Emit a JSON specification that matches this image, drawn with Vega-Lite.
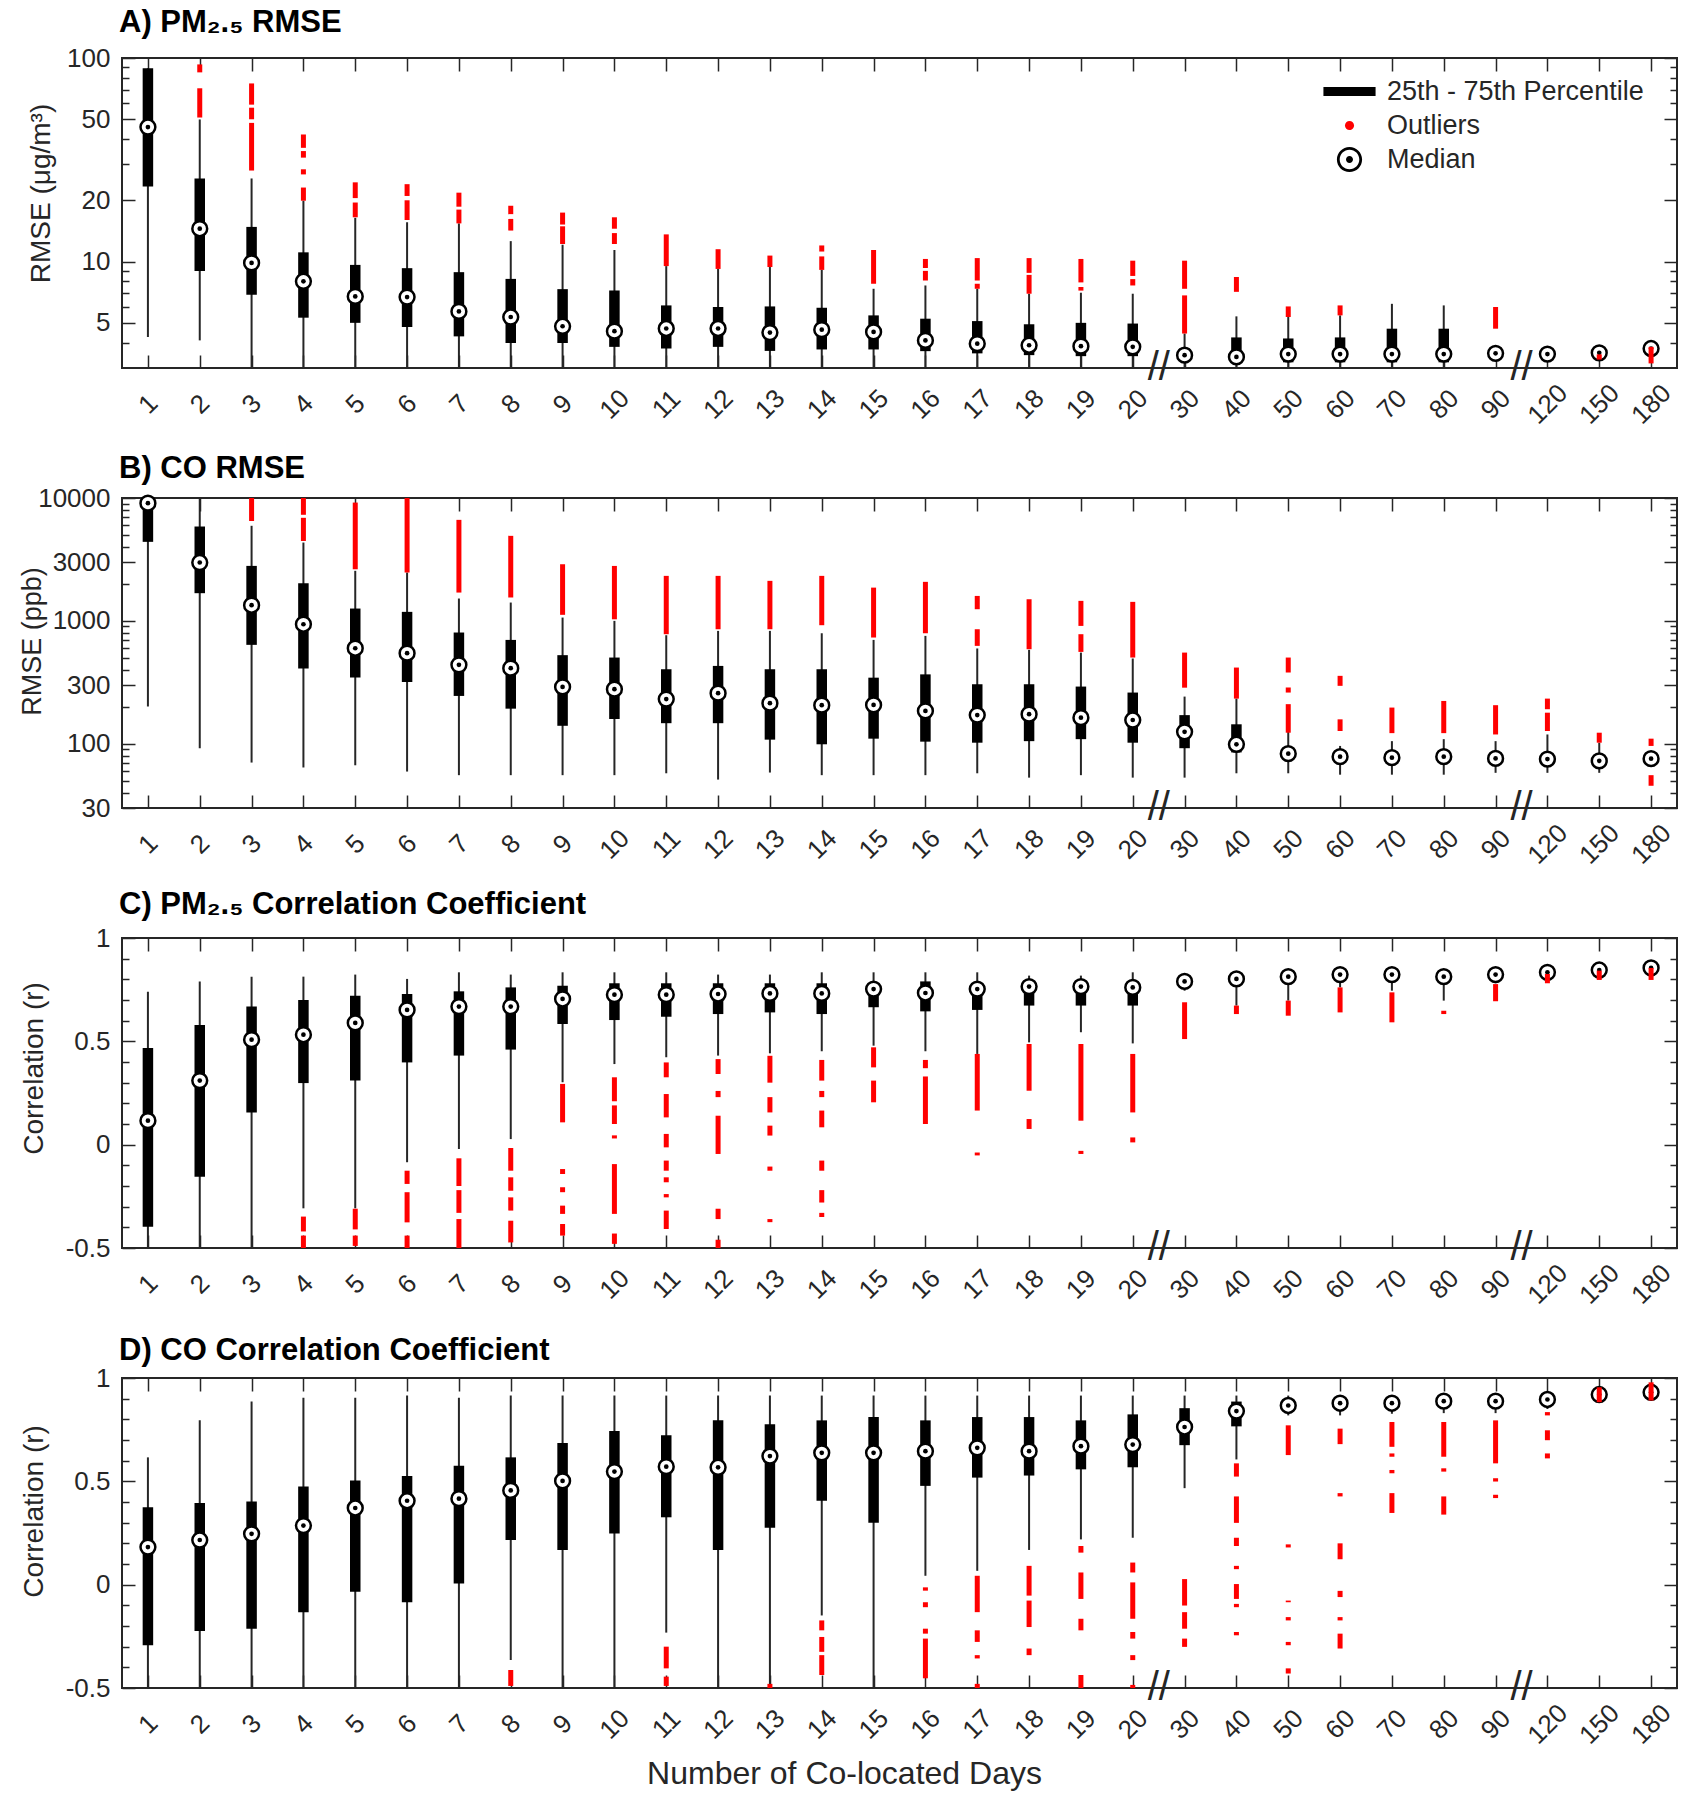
{
 "$schema": "https://vega.github.io/schema/vega-lite/v6.json",
 "background": "white",
 "padding": {"left": 17, "top": 6, "right": 5, "bottom": 5},
 "spacing": 130,
 "bounds": "flush",
 "datasets": {
  "A": [
   {"d":"1","lo":4.26,"q1":23.4,"med":45.8,"q3":89,"hi":89},
   {"d":"2","lo":4.1,"q1":9.0,"med":14.5,"q3":25.6,"hi":49.9},
   {"d":"3","lo":3,"q1":6.87,"med":9.85,"q3":14.8,"hi":25.6},
   {"d":"4","lo":3,"q1":5.3,"med":8.0,"q3":11.1,"hi":19.9},
   {"d":"5","lo":3,"q1":5.0,"med":6.74,"q3":9.63,"hi":16.4},
   {"d":"6","lo":3,"q1":4.77,"med":6.69,"q3":9.28,"hi":15.6},
   {"d":"7","lo":3,"q1":4.29,"med":5.69,"q3":8.87,"hi":15.4},
   {"d":"8","lo":3,"q1":3.98,"med":5.34,"q3":8.22,"hi":12.6},
   {"d":"9","lo":3,"q1":3.98,"med":4.81,"q3":7.32,"hi":12.1},
   {"d":"10","lo":3,"q1":3.81,"med":4.55,"q3":7.21,"hi":11.4},
   {"d":"11","lo":3,"q1":3.74,"med":4.69,"q3":6.09,"hi":9.5},
   {"d":"12","lo":3,"q1":3.81,"med":4.69,"q3":5.98,"hi":9.2},
   {"d":"13","lo":3,"q1":3.64,"med":4.48,"q3":6.02,"hi":9.4},
   {"d":"14","lo":3,"q1":3.70,"med":4.63,"q3":5.93,"hi":9.1},
   {"d":"15","lo":3,"q1":3.70,"med":4.51,"q3":5.44,"hi":7.35},
   {"d":"16","lo":3,"q1":3.63,"med":4.10,"q3":5.24,"hi":7.63},
   {"d":"17","lo":3,"q1":3.54,"med":3.95,"q3":5.10,"hi":7.35},
   {"d":"18","lo":3,"q1":3.47,"med":3.88,"q3":4.92,"hi":6.95},
   {"d":"19","lo":3,"q1":3.43,"med":3.84,"q3":5.00,"hi":7.03},
   {"d":"20","lo":3,"q1":3.43,"med":3.81,"q3":4.96,"hi":6.95},
   {"d":"30","lo":3,"q1":3.25,"med":3.47,"q3":3.75,"hi":4.43},
   {"d":"40","lo":3,"q1":3.2,"med":3.40,"q3":4.24,"hi":5.38},
   {"d":"50","lo":3,"q1":3.2,"med":3.51,"q3":4.19,"hi":5.34},
   {"d":"60","lo":3,"q1":3.2,"med":3.51,"q3":4.24,"hi":5.44},
   {"d":"70","lo":3,"q1":3.2,"med":3.51,"q3":4.68,"hi":6.2},
   {"d":"80","lo":3,"q1":3.2,"med":3.51,"q3":4.68,"hi":6.09},
   {"d":"90","lo":3.3,"q1":3.4,"med":3.54,"q3":3.65,"hi":3.8},
   {"d":"120","lo":3.3,"q1":3.4,"med":3.51,"q3":3.6,"hi":3.7},
   {"d":"150","lo":3.35,"q1":3.45,"med":3.56,"q3":3.65,"hi":3.75},
   {"d":"180","lo":3.5,"q1":3.6,"med":3.74,"q3":3.85,"hi":3.95}
  ],
  "Ao": [
   {"d":"2","a":51,"b":71},{"d":"2","a":85,"b":93},
   {"d":"3","a":28,"b":48},{"d":"3","a":50,"b":57},{"d":"3","a":59,"b":75},
   {"d":"4","a":19.9,"b":23.1},{"d":"4","a":26.8,"b":28.4},{"d":"4","a":32.4,"b":34.9},{"d":"4","a":36.2,"b":42.1},
   {"d":"5","a":16.5,"b":19.5},{"d":"5","a":20.5,"b":24.5},
   {"d":"6","a":16,"b":20},{"d":"6","a":21,"b":24},
   {"d":"7","a":15.4,"b":18},{"d":"7","a":18.6,"b":21.8},
   {"d":"8","a":14.2,"b":16.2},{"d":"8","a":17.1,"b":18.8},
   {"d":"9","a":12.2,"b":14.9},{"d":"9","a":15.2,"b":17.4},
   {"d":"10","a":12.2,"b":13.8},{"d":"10","a":14.5,"b":16.5},
   {"d":"11","a":9.5,"b":13.6},
   {"d":"12","a":9.2,"b":11.5},
   {"d":"13","a":9.4,"b":10.7},
   {"d":"14","a":9.1,"b":10.6},{"d":"14","a":11.2,"b":12.0},
   {"d":"15","a":7.78,"b":11.4},
   {"d":"16","a":8.07,"b":9.0},{"d":"16","a":9.3,"b":10.3},
   {"d":"17","a":7.35,"b":7.78},{"d":"17","a":8.07,"b":10.4},
   {"d":"18","a":6.95,"b":8.6},{"d":"18","a":8.8,"b":10.4},
   {"d":"19","a":7.2,"b":7.5},{"d":"19","a":7.9,"b":10.3},
   {"d":"20","a":7.63,"b":8.2},{"d":"20","a":8.5,"b":10.1},
   {"d":"30","a":4.43,"b":6.82},{"d":"30","a":7.35,"b":10.1},
   {"d":"40","a":7.1,"b":8.4},
   {"d":"50","a":5.34,"b":6.02},
   {"d":"60","a":5.44,"b":6.09},
   {"d":"90","a":4.68,"b":5.98},
   {"d":"150","a":3.3,"b":3.5},
   {"d":"180","a":3.16,"b":3.81}
  ],
  "B": [
   {"d":"1","lo":201,"q1":4397,"med":9077,"q3":11000,"hi":12000},
   {"d":"2","lo":92,"q1":1680,"med":2985,"q3":5861,"hi":12000},
   {"d":"3","lo":70.3,"q1":638,"med":1341,"q3":2802,"hi":5940},
   {"d":"4","lo":64.1,"q1":409,"med":939,"q3":2026,"hi":4340},
   {"d":"5","lo":66.8,"q1":346,"med":599,"q3":1260,"hi":2555},
   {"d":"6","lo":59.4,"q1":318,"med":546,"q3":1184,"hi":2475},
   {"d":"7","lo":55.5,"q1":245,"med":439,"q3":804,"hi":1520},
   {"d":"8","lo":55.5,"q1":193,"med":412,"q3":700,"hi":1410},
   {"d":"9","lo":55.5,"q1":140,"med":290,"q3":526,"hi":1064},
   {"d":"10","lo":55.5,"q1":159,"med":278,"q3":503,"hi":1000},
   {"d":"11","lo":57.5,"q1":147,"med":231,"q3":404,"hi":764},
   {"d":"12","lo":51.1,"q1":147,"med":258,"q3":430,"hi":829},
   {"d":"13","lo":58.3,"q1":108,"med":214,"q3":404,"hi":829},
   {"d":"14","lo":55.5,"q1":99,"med":206,"q3":404,"hi":793},
   {"d":"15","lo":55.5,"q1":110,"med":207,"q3":345,"hi":700},
   {"d":"16","lo":55.5,"q1":104,"med":185,"q3":367,"hi":755},
   {"d":"17","lo":57.5,"q1":102,"med":171,"q3":305,"hi":596},
   {"d":"18","lo":53,"q1":105,"med":174,"q3":305,"hi":581},
   {"d":"19","lo":55.5,"q1":109,"med":163,"q3":292,"hi":552},
   {"d":"20","lo":53,"q1":102,"med":156,"q3":261,"hi":494},
   {"d":"30","lo":53,"q1":92,"med":125,"q3":171,"hi":242},
   {"d":"40","lo":57.5,"q1":85,"med":99,"q3":144,"hi":233},
   {"d":"50","lo":57.5,"q1":76,"med":83,"q3":92,"hi":125},
   {"d":"60","lo":56,"q1":72,"med":78.5,"q3":86,"hi":96},
   {"d":"70","lo":56,"q1":72,"med":77,"q3":83,"hi":105},
   {"d":"80","lo":56,"q1":72,"med":78.5,"q3":86,"hi":109},
   {"d":"90","lo":58,"q1":71,"med":76,"q3":82,"hi":105},
   {"d":"120","lo":58,"q1":70,"med":75,"q3":81,"hi":119},
   {"d":"150","lo":58,"q1":67,"med":72.6,"q3":79,"hi":102},
   {"d":"180","lo":70,"q1":72,"med":75.6,"q3":80,"hi":85}
  ],
  "Bo": [
   {"d":"3","a":6500,"b":10500},
   {"d":"4","a":4470,"b":6900},{"d":"4","a":7300,"b":10500},
   {"d":"5","a":2630,"b":9180},
   {"d":"6","a":2475,"b":10000},
   {"d":"7","a":1700,"b":6640},
   {"d":"8","a":1550,"b":4920},
   {"d":"9","a":1120,"b":2890},
   {"d":"10","a":1030,"b":2800},
   {"d":"11","a":779,"b":2324},
   {"d":"12","a":855,"b":2324},
   {"d":"13","a":855,"b":2117},
   {"d":"14","a":922,"b":2324},
   {"d":"15","a":732,"b":1865},
   {"d":"16","a":793,"b":2078},
   {"d":"17","a":626,"b":855},{"d":"17","a":1244,"b":1596},
   {"d":"18","a":588,"b":1500},
   {"d":"19","a":559,"b":779},{"d":"19","a":910,"b":1455},
   {"d":"20","a":503,"b":1428},
   {"d":"30","a":286,"b":552},
   {"d":"40","a":233,"b":417},
   {"d":"50","a":123,"b":210},{"d":"50","a":261,"b":287},{"d":"50","a":380,"b":503},
   {"d":"60","a":127,"b":158},{"d":"60","a":296,"b":357},
   {"d":"70","a":122,"b":197},
   {"d":"80","a":122,"b":223},
   {"d":"90","a":119,"b":206},
   {"d":"120","a":127,"b":179},{"d":"120","a":191,"b":233},
   {"d":"150","a":102,"b":123},
   {"d":"180","a":96,"b":110},{"d":"180","a":45.5,"b":55.5}
  ],
  "C": [
   {"d":"1","lo":-0.5,"q1":-0.397,"med":0.116,"q3":0.468,"hi":0.74},
   {"d":"2","lo":-0.5,"q1":-0.155,"med":0.31,"q3":0.579,"hi":0.79},
   {"d":"3","lo":-0.5,"q1":0.156,"med":0.508,"q3":0.669,"hi":0.813},
   {"d":"4","lo":-0.308,"q1":0.298,"med":0.532,"q3":0.70,"hi":0.813},
   {"d":"5","lo":-0.308,"q1":0.31,"med":0.589,"q3":0.721,"hi":0.823},
   {"d":"6","lo":-0.085,"q1":0.398,"med":0.652,"q3":0.729,"hi":0.802},
   {"d":"7","lo":-0.021,"q1":0.431,"med":0.668,"q3":0.742,"hi":0.834},
   {"d":"8","lo":0.027,"q1":0.46,"med":0.668,"q3":0.761,"hi":0.823},
   {"d":"9","lo":0.302,"q1":0.584,"med":0.705,"q3":0.769,"hi":0.834},
   {"d":"10","lo":0.39,"q1":0.603,"med":0.726,"q3":0.781,"hi":0.834},
   {"d":"11","lo":0.423,"q1":0.619,"med":0.726,"q3":0.781,"hi":0.834},
   {"d":"12","lo":0.431,"q1":0.632,"med":0.729,"q3":0.781,"hi":0.823},
   {"d":"13","lo":0.442,"q1":0.64,"med":0.732,"q3":0.781,"hi":0.823},
   {"d":"14","lo":0.452,"q1":0.632,"med":0.732,"q3":0.781,"hi":0.834},
   {"d":"15","lo":0.479,"q1":0.665,"med":0.753,"q3":0.78,"hi":0.834},
   {"d":"16","lo":0.452,"q1":0.645,"med":0.734,"q3":0.79,"hi":0.834},
   {"d":"17","lo":0.439,"q1":0.652,"med":0.753,"q3":0.78,"hi":0.834},
   {"d":"18","lo":0.495,"q1":0.673,"med":0.765,"q3":0.79,"hi":0.818},
   {"d":"19","lo":0.544,"q1":0.673,"med":0.765,"q3":0.79,"hi":0.818},
   {"d":"20","lo":0.49,"q1":0.673,"med":0.761,"q3":0.79,"hi":0.834},
   {"d":"30","lo":0.745,"q1":0.77,"med":0.79,"q3":0.81,"hi":0.83},
   {"d":"40","lo":0.673,"q1":0.785,"med":0.802,"q3":0.82,"hi":0.84},
   {"d":"50","lo":0.697,"q1":0.795,"med":0.813,"q3":0.83,"hi":0.85},
   {"d":"60","lo":0.761,"q1":0.805,"med":0.823,"q3":0.84,"hi":0.86},
   {"d":"70","lo":0.745,"q1":0.805,"med":0.823,"q3":0.84,"hi":0.86},
   {"d":"80","lo":0.697,"q1":0.795,"med":0.813,"q3":0.83,"hi":0.85},
   {"d":"90","lo":0.781,"q1":0.81,"med":0.823,"q3":0.84,"hi":0.855},
   {"d":"120","lo":0.82,"q1":0.825,"med":0.834,"q3":0.845,"hi":0.855},
   {"d":"150","lo":0.83,"q1":0.835,"med":0.845,"q3":0.855,"hi":0.865},
   {"d":"180","lo":0.84,"q1":0.845,"med":0.855,"q3":0.865,"hi":0.875}
  ],
  "Co": [
   {"d":"4","a":-0.5,"b":-0.44},{"d":"4","a":-0.42,"b":-0.348},
   {"d":"5","a":-0.49,"b":-0.44},{"d":"5","a":-0.41,"b":-0.31},
   {"d":"6","a":-0.5,"b":-0.44},{"d":"6","a":-0.376,"b":-0.23},{"d":"6","a":-0.19,"b":-0.126},
   {"d":"7","a":-0.5,"b":-0.36},{"d":"7","a":-0.33,"b":-0.22},{"d":"7","a":-0.2,"b":-0.066},
   {"d":"8","a":-0.473,"b":-0.368},{"d":"8","a":-0.319,"b":-0.255},{"d":"8","a":-0.223,"b":-0.158},{"d":"8","a":-0.126,"b":-0.016},
   {"d":"9","a":0.108,"b":0.294},{"d":"9","a":-0.142,"b":-0.118},{"d":"9","a":-0.23,"b":-0.206},{"d":"9","a":-0.335,"b":-0.295},{"d":"9","a":-0.44,"b":-0.384},
   {"d":"10","a":0.21,"b":0.326},{"d":"10","a":0.1,"b":0.19},{"d":"10","a":0.03,"b":0.045},{"d":"10","a":-0.335,"b":-0.094},{"d":"10","a":-0.48,"b":-0.43},
   {"d":"11","a":0.326,"b":0.398},{"d":"11","a":0.132,"b":0.245},{"d":"11","a":-0.013,"b":0.052},{"d":"11","a":-0.126,"b":-0.077},{"d":"11","a":-0.182,"b":-0.158},{"d":"11","a":-0.255,"b":-0.239},{"d":"11","a":-0.408,"b":-0.319},
   {"d":"12","a":0.342,"b":0.414},{"d":"12","a":0.23,"b":0.26},{"d":"12","a":-0.045,"b":0.14},{"d":"12","a":-0.36,"b":-0.31},{"d":"12","a":-0.5,"b":-0.46},
   {"d":"13","a":0.30,"b":0.43},{"d":"13","a":0.156,"b":0.23},{"d":"13","a":0.044,"b":0.092},{"d":"13","a":-0.126,"b":-0.106},{"d":"13","a":-0.375,"b":-0.36},
   {"d":"14","a":0.31,"b":0.41},{"d":"14","a":0.23,"b":0.26},{"d":"14","a":0.084,"b":0.165},{"d":"14","a":-0.126,"b":-0.077},{"d":"14","a":-0.28,"b":-0.22},{"d":"14","a":-0.35,"b":-0.33},
   {"d":"15","a":0.374,"b":0.471},{"d":"15","a":0.205,"b":0.31},
   {"d":"16","a":0.37,"b":0.41},{"d":"16","a":0.1,"b":0.33},
   {"d":"17","a":0.165,"b":0.439},{"d":"17","a":-0.052,"b":-0.038},
   {"d":"18","a":0.261,"b":0.487},{"d":"18","a":0.076,"b":0.124},
   {"d":"19","a":0.116,"b":0.487},{"d":"19","a":-0.045,"b":-0.03},
   {"d":"20","a":0.156,"b":0.439},{"d":"20","a":0.011,"b":0.035},
   {"d":"30","a":0.511,"b":0.689},
   {"d":"40","a":0.632,"b":0.673},
   {"d":"50","a":0.624,"b":0.697},
   {"d":"60","a":0.64,"b":0.761},
   {"d":"70","a":0.592,"b":0.737},
   {"d":"80","a":0.632,"b":0.648},
   {"d":"90","a":0.694,"b":0.777},
   {"d":"120","a":0.781,"b":0.826},
   {"d":"150","a":0.797,"b":0.842},
   {"d":"180","a":0.797,"b":0.855}
  ],
  "D": [
   {"d":"1","lo":-0.5,"q1":-0.293,"med":0.182,"q3":0.374,"hi":0.616},
   {"d":"2","lo":-0.5,"q1":-0.224,"med":0.216,"q3":0.395,"hi":0.795},
   {"d":"3","lo":-0.5,"q1":-0.213,"med":0.246,"q3":0.403,"hi":0.886},
   {"d":"4","lo":-0.5,"q1":-0.133,"med":0.286,"q3":0.475,"hi":0.904},
   {"d":"5","lo":-0.5,"q1":-0.034,"med":0.371,"q3":0.504,"hi":0.904},
   {"d":"6","lo":-0.5,"q1":-0.085,"med":0.406,"q3":0.526,"hi":0.915},
   {"d":"7","lo":-0.5,"q1":0.006,"med":0.416,"q3":0.576,"hi":0.904},
   {"d":"8","lo":-0.365,"q1":0.216,"med":0.456,"q3":0.616,"hi":0.915},
   {"d":"9","lo":-0.5,"q1":0.168,"med":0.502,"q3":0.686,"hi":0.915},
   {"d":"10","lo":-0.5,"q1":0.248,"med":0.547,"q3":0.744,"hi":0.915},
   {"d":"11","lo":-0.232,"q1":0.326,"med":0.571,"q3":0.723,"hi":0.915},
   {"d":"12","lo":-0.5,"q1":0.168,"med":0.568,"q3":0.795,"hi":0.915},
   {"d":"13","lo":-0.5,"q1":0.275,"med":0.622,"q3":0.776,"hi":0.915},
   {"d":"14","lo":-0.149,"q1":0.406,"med":0.638,"q3":0.795,"hi":0.915},
   {"d":"15","lo":-0.5,"q1":0.299,"med":0.638,"q3":0.811,"hi":0.915},
   {"d":"16","lo":0.043,"q1":0.478,"med":0.646,"q3":0.795,"hi":0.915},
   {"d":"17","lo":0.067,"q1":0.518,"med":0.662,"q3":0.811,"hi":0.915},
   {"d":"18","lo":0.168,"q1":0.528,"med":0.646,"q3":0.811,"hi":0.915},
   {"d":"19","lo":0.219,"q1":0.558,"med":0.670,"q3":0.795,"hi":0.915},
   {"d":"20","lo":0.227,"q1":0.568,"med":0.678,"q3":0.824,"hi":0.915},
   {"d":"30","lo":0.467,"q1":0.675,"med":0.763,"q3":0.854,"hi":0.915},
   {"d":"40","lo":0.606,"q1":0.766,"med":0.84,"q3":0.886,"hi":0.915},
   {"d":"50","lo":0.819,"q1":0.85,"med":0.867,"q3":0.885,"hi":0.915},
   {"d":"60","lo":0.819,"q1":0.86,"med":0.878,"q3":0.895,"hi":0.915},
   {"d":"70","lo":0.827,"q1":0.86,"med":0.878,"q3":0.895,"hi":0.915},
   {"d":"80","lo":0.83,"q1":0.87,"med":0.888,"q3":0.9,"hi":0.915},
   {"d":"90","lo":0.83,"q1":0.87,"med":0.888,"q3":0.9,"hi":0.915},
   {"d":"120","lo":0.85,"q1":0.88,"med":0.896,"q3":0.91,"hi":0.92},
   {"d":"150","lo":0.89,"q1":0.905,"med":0.92,"q3":0.935,"hi":0.95},
   {"d":"180","lo":0.9,"q1":0.915,"med":0.931,"q3":0.945,"hi":0.96}
  ],
  "Do": [
   {"d":"8","a":-0.49,"b":-0.413},
   {"d":"11","a":-0.405,"b":-0.3},{"d":"11","a":-0.49,"b":-0.445},
   {"d":"13","a":-0.5,"b":-0.48},
   {"d":"14","a":-0.221,"b":-0.173},{"d":"14","a":-0.325,"b":-0.253},{"d":"14","a":-0.437,"b":-0.341},
   {"d":"16","a":-0.029,"b":-0.013},{"d":"16","a":-0.109,"b":-0.085},{"d":"16","a":-0.237,"b":-0.213},{"d":"16","a":-0.453,"b":-0.261},
   {"d":"17","a":-0.133,"b":0.043},{"d":"17","a":-0.277,"b":-0.221},{"d":"17","a":-0.357,"b":-0.341},{"d":"17","a":-0.5,"b":-0.48},
   {"d":"18","a":-0.053,"b":0.091},{"d":"18","a":-0.205,"b":-0.077},{"d":"18","a":-0.341,"b":-0.309},
   {"d":"19","a":0.155,"b":0.187},{"d":"19","a":-0.069,"b":0.059},{"d":"19","a":-0.221,"b":-0.165},{"d":"19","a":-0.5,"b":-0.437},
   {"d":"20","a":0.059,"b":0.107},{"d":"20","a":-0.165,"b":0.011},{"d":"20","a":-0.261,"b":-0.229},{"d":"20","a":-0.365,"b":-0.341},{"d":"20","a":-0.5,"b":-0.485},
   {"d":"30","a":-0.101,"b":0.027},{"d":"30","a":-0.213,"b":-0.133},{"d":"30","a":-0.301,"b":-0.261},
   {"d":"40","a":0.523,"b":0.587},{"d":"40","a":0.299,"b":0.427},{"d":"40","a":0.187,"b":0.227},{"d":"40","a":0.075,"b":0.091},{"d":"40","a":-0.069,"b":0.003},{"d":"40","a":-0.109,"b":-0.093},{"d":"40","a":-0.245,"b":-0.229},
   {"d":"50","a":0.627,"b":0.771},{"d":"50","a":0.18,"b":0.195},{"d":"50","a":-0.085,"b":-0.077},{"d":"50","a":-0.173,"b":-0.157},{"d":"50","a":-0.293,"b":-0.277},{"d":"50","a":-0.43,"b":-0.405},
   {"d":"60","a":0.68,"b":0.755},{"d":"60","a":0.427,"b":0.443},{"d":"60","a":0.123,"b":0.2},{"d":"60","a":-0.06,"b":-0.03},{"d":"60","a":-0.173,"b":-0.157},{"d":"60","a":-0.309,"b":-0.237},
   {"d":"70","a":0.667,"b":0.787},{"d":"70","a":0.619,"b":0.635},{"d":"70","a":0.539,"b":0.555},{"d":"70","a":0.347,"b":0.443},
   {"d":"80","a":0.619,"b":0.787},{"d":"80","a":0.547,"b":0.563},{"d":"80","a":0.339,"b":0.427},
   {"d":"90","a":0.587,"b":0.795},{"d":"90","a":0.499,"b":0.515},{"d":"90","a":0.419,"b":0.435},
   {"d":"120","a":0.819,"b":0.835},{"d":"120","a":0.699,"b":0.747},{"d":"120","a":0.611,"b":0.635},
   {"d":"150","a":0.883,"b":0.955},
   {"d":"180","a":0.891,"b":0.979}
  ],
  "brk": [
   {"d":"20","ya":3,"yb":30,"yc":-0.5},
   {"d":"90","ya":3,"yb":30,"yc":-0.5}
  ],
  "leg": [
   {"t":"25th - 75th Percentile"},{"t":"Outliers"},{"t":"Median"}
  ]
 },
 "vconcat": [
  {
   "title": {"text": "A) PM₂.₅ RMSE", "offset": 6},
   "width": 1555, "height": 310,
   "resolve": {"axis": {"x": "independent", "y": "independent"}},
   "layer": [
    {"data": {"name": "A"}, "mark": {"type": "rule", "color": "#262626", "strokeWidth": 2, "clip": true},
     "encoding": {
      "x": {"field": "d", "type": "ordinal", "scale": {"type": "point", "padding": 0.5, "domain": ["1","2","3","4","5","6","7","8","9","10","11","12","13","14","15","16","17","18","19","20","30","40","50","60","70","80","90","120","150","180"]},
            "axis": {"orient": "bottom", "title": null, "labelAngle": -45, "labelAlign": "center", "labelBaseline": "middle", "labelPadding": 49, "tickSize": -13}},
      "y": {"field": "lo", "type": "quantitative", "scale": {"type": "log", "domain": [3, 100], "nice": false},
            "axis": {"orient": "left", "values": [5, 10, 20, 50, 100], "format": "d", "title": "RMSE (μg/m³)", "titleX": -81, "titleY": 135, "titleAngle": -90, "titleAlign": "center", "titleBaseline": "middle", "labelPadding": 25, "tickSize": -13}},
      "y2": {"field": "hi"}}},
    {"data": {"name": "A"}, "mark": {"type": "rule", "color": "#000000", "strokeWidth": 10.5, "strokeCap": "butt", "clip": true},
     "encoding": {
      "x": {"field": "d", "type": "ordinal", "axis": {"orient": "top", "title": null, "labels": false, "tickSize": -13}},
      "y": {"field": "q1", "type": "quantitative", "axis": {"orient": "right", "values": [5, 10, 20, 50, 100], "labels": false, "title": null, "tickSize": -13}},
      "y2": {"field": "q3"}}},
    {"data": {"name": "A"}, "mark": {"type": "point", "shape": "circle", "size": 220, "fill": "#ffffff", "fillOpacity": 1, "stroke": "#000000", "strokeWidth": 2.5, "opacity": 1},
     "encoding": {
      "x": {"field": "d", "type": "ordinal", "axis": null},
      "y": {"field": "med", "type": "quantitative", "axis": {"orient": "left", "values": [4, 6, 7, 8, 9, 30, 40, 60, 70, 80, 90], "labels": false, "title": null, "tickSize": -7}}}},
    {"data": {"name": "A"}, "mark": {"type": "point", "shape": "circle", "size": 22, "filled": true, "color": "#000000", "opacity": 1},
     "encoding": {
      "x": {"field": "d", "type": "ordinal", "axis": null},
      "y": {"field": "med", "type": "quantitative", "axis": {"orient": "right", "values": [4, 6, 7, 8, 9, 30, 40, 60, 70, 80, 90], "labels": false, "title": null, "tickSize": -7}}}},
    {"data": {"name": "Ao"}, "mark": {"type": "rule", "color": "#ff0000", "strokeWidth": 5, "strokeCap": "butt", "clip": true},
     "encoding": {
      "x": {"field": "d", "type": "ordinal", "axis": null},
      "y": {"field": "a", "type": "quantitative", "axis": null},
      "y2": {"field": "b"}}},
    {"data": {"name": "brk"}, "mark": {"type": "text", "text": "//", "fontSize": 40, "dx": 26, "align": "center", "baseline": "middle", "color": "#262626", "font": "Liberation Sans"},
     "encoding": {
      "x": {"field": "d", "type": "ordinal", "axis": null},
      "y": {"field": "ya", "type": "quantitative", "axis": null}}},
    {"data": {"name": "leg"}, "transform": [{"filter": "false"}], "mark": {"type": "point", "filled": true, "opacity": 1},
     "encoding": {
      "color": {"field": "t", "type": "nominal",
                "scale": {"domain": ["25th - 75th Percentile", "Outliers", "Median"], "range": ["#000000", "#ff0000", "#000000"]},
                "legend": {"orient": "none", "legendX": 1210, "legendY": 16, "title": null, "labelFont": "Liberation Sans", "labelFontSize": 27, "labelColor": "#262626", "labelLimit": 400, "symbolSize": 1225, "symbolStrokeWidth": 0, "labelOffset": 20, "rowPadding": 3, "padding": 0, "symbolOpacity": 1}},
      "shape": {"field": "t", "type": "nominal",
                "scale": {"domain": ["25th - 75th Percentile", "Outliers", "Median"], "range": ["M-1.49,-0.26H1.49V0.26H-1.49Z", "M-0.26,0A0.26,0.26,0,1,1,0.26,0A0.26,0.26,0,1,1,-0.26,0Z", "M-0.72,0A0.72,0.72,0,1,1,0.72,0A0.72,0.72,0,1,1,-0.72,0ZM-0.56,0A0.56,0.56,0,1,0,0.56,0A0.56,0.56,0,1,0,-0.56,0ZM-0.2,0A0.2,0.2,0,1,1,0.2,0A0.2,0.2,0,1,1,-0.2,0Z"]},
                "legend": {"orient": "none", "legendX": 1210, "legendY": 16, "title": null, "labelFont": "Liberation Sans", "labelFontSize": 27, "labelColor": "#262626", "labelLimit": 400, "symbolSize": 1225, "symbolStrokeWidth": 0, "labelOffset": 20, "rowPadding": 3, "padding": 0, "symbolOpacity": 1}}}}
   ]
  },
  {
   "title": {"text": "B) CO RMSE", "offset": 0},
   "width": 1555, "height": 310,
   "resolve": {"axis": {"x": "independent", "y": "independent"}},
   "layer": [
    {"data": {"name": "B"}, "mark": {"type": "rule", "color": "#262626", "strokeWidth": 2, "clip": true},
     "encoding": {
      "x": {"field": "d", "type": "ordinal", "scale": {"type": "point", "padding": 0.5, "domain": ["1","2","3","4","5","6","7","8","9","10","11","12","13","14","15","16","17","18","19","20","30","40","50","60","70","80","90","120","150","180"]},
            "axis": {"orient": "bottom", "title": null, "labelAngle": -45, "labelAlign": "center", "labelBaseline": "middle", "labelPadding": 49, "tickSize": -13}},
      "y": {"field": "lo", "type": "quantitative", "scale": {"type": "log", "domain": [30, 10000], "nice": false},
            "axis": {"orient": "left", "values": [30, 100, 300, 1000, 3000, 10000], "format": "d", "title": "RMSE (ppb)", "titleX": -90, "titleY": 143, "titleAngle": -90, "titleAlign": "center", "titleBaseline": "middle", "titleFontSize": 27, "labelPadding": 25, "tickSize": -13}},
      "y2": {"field": "hi"}}},
    {"data": {"name": "B"}, "mark": {"type": "rule", "color": "#000000", "strokeWidth": 10.5, "strokeCap": "butt", "clip": true},
     "encoding": {
      "x": {"field": "d", "type": "ordinal", "axis": {"orient": "top", "title": null, "labels": false, "tickSize": -13}},
      "y": {"field": "q1", "type": "quantitative", "axis": {"orient": "right", "values": [30, 100, 300, 1000, 3000, 10000], "labels": false, "title": null, "tickSize": -13}},
      "y2": {"field": "q3"}}},
    {"data": {"name": "B"}, "mark": {"type": "point", "shape": "circle", "size": 220, "fill": "#ffffff", "fillOpacity": 1, "stroke": "#000000", "strokeWidth": 2.5, "opacity": 1},
     "encoding": {
      "x": {"field": "d", "type": "ordinal", "axis": null},
      "y": {"field": "med", "type": "quantitative", "axis": {"orient": "left", "values": [40, 50, 60, 70, 80, 90, 200, 400, 500, 600, 700, 800, 900, 2000, 4000, 5000, 6000, 7000, 8000, 9000], "labels": false, "title": null, "tickSize": -7}}}},
    {"data": {"name": "B"}, "mark": {"type": "point", "shape": "circle", "size": 22, "filled": true, "color": "#000000", "opacity": 1},
     "encoding": {
      "x": {"field": "d", "type": "ordinal", "axis": null},
      "y": {"field": "med", "type": "quantitative", "axis": {"orient": "right", "values": [40, 50, 60, 70, 80, 90, 200, 400, 500, 600, 700, 800, 900, 2000, 4000, 5000, 6000, 7000, 8000, 9000], "labels": false, "title": null, "tickSize": -7}}}},
    {"data": {"name": "Bo"}, "mark": {"type": "rule", "color": "#ff0000", "strokeWidth": 5, "strokeCap": "butt", "clip": true},
     "encoding": {
      "x": {"field": "d", "type": "ordinal", "axis": null},
      "y": {"field": "a", "type": "quantitative", "axis": null},
      "y2": {"field": "b"}}},
    {"data": {"name": "brk"}, "mark": {"type": "text", "text": "//", "fontSize": 40, "dx": 26, "align": "center", "baseline": "middle", "color": "#262626", "font": "Liberation Sans"},
     "encoding": {
      "x": {"field": "d", "type": "ordinal", "axis": null},
      "y": {"field": "yb", "type": "quantitative", "axis": null}}}
   ]
  },
  {
   "title": {"text": "C) PM₂.₅ Correlation Coefficient", "offset": 4},
   "width": 1555, "height": 310,
   "resolve": {"axis": {"x": "independent", "y": "independent"}},
   "layer": [
    {"data": {"name": "C"}, "mark": {"type": "rule", "color": "#262626", "strokeWidth": 2, "clip": true},
     "encoding": {
      "x": {"field": "d", "type": "ordinal", "scale": {"type": "point", "padding": 0.5, "domain": ["1","2","3","4","5","6","7","8","9","10","11","12","13","14","15","16","17","18","19","20","30","40","50","60","70","80","90","120","150","180"]},
            "axis": {"orient": "bottom", "title": null, "labelAngle": -45, "labelAlign": "center", "labelBaseline": "middle", "labelPadding": 49, "tickSize": -13}},
      "y": {"field": "lo", "type": "quantitative", "scale": {"domain": [-0.5, 1], "nice": false, "zero": false},
            "axis": {"orient": "left", "values": [-0.5, 0, 0.5, 1], "labelExpr": "datum.value < 0 ? '-' + format(-datum.value, '') : format(datum.value, '')", "title": "Correlation (r)", "titleX": -88, "titleY": 130, "titleAngle": -90, "titleAlign": "center", "titleBaseline": "middle", "labelPadding": 25, "tickSize": -13}},
      "y2": {"field": "hi"}}},
    {"data": {"name": "C"}, "mark": {"type": "rule", "color": "#000000", "strokeWidth": 10.5, "strokeCap": "butt", "clip": true},
     "encoding": {
      "x": {"field": "d", "type": "ordinal", "axis": {"orient": "top", "title": null, "labels": false, "tickSize": -13}},
      "y": {"field": "q1", "type": "quantitative", "axis": {"orient": "right", "values": [-0.5, 0, 0.5, 1], "labels": false, "title": null, "tickSize": -13}},
      "y2": {"field": "q3"}}},
    {"data": {"name": "C"}, "mark": {"type": "point", "shape": "circle", "size": 220, "fill": "#ffffff", "fillOpacity": 1, "stroke": "#000000", "strokeWidth": 2.5, "opacity": 1},
     "encoding": {
      "x": {"field": "d", "type": "ordinal", "axis": null},
      "y": {"field": "med", "type": "quantitative", "axis": {"orient": "left", "values": [-0.4, -0.3, -0.2, -0.1, 0.1, 0.2, 0.3, 0.4, 0.6, 0.7, 0.8, 0.9], "labels": false, "title": null, "tickSize": -7}}}},
    {"data": {"name": "C"}, "mark": {"type": "point", "shape": "circle", "size": 22, "filled": true, "color": "#000000", "opacity": 1},
     "encoding": {
      "x": {"field": "d", "type": "ordinal", "axis": null},
      "y": {"field": "med", "type": "quantitative", "axis": {"orient": "right", "values": [-0.4, -0.3, -0.2, -0.1, 0.1, 0.2, 0.3, 0.4, 0.6, 0.7, 0.8, 0.9], "labels": false, "title": null, "tickSize": -7}}}},
    {"data": {"name": "Co"}, "mark": {"type": "rule", "color": "#ff0000", "strokeWidth": 5, "strokeCap": "butt", "clip": true},
     "encoding": {
      "x": {"field": "d", "type": "ordinal", "axis": null},
      "y": {"field": "a", "type": "quantitative", "axis": null},
      "y2": {"field": "b"}}},
    {"data": {"name": "brk"}, "mark": {"type": "text", "text": "//", "fontSize": 40, "dx": 26, "align": "center", "baseline": "middle", "color": "#262626", "font": "Liberation Sans"},
     "encoding": {
      "x": {"field": "d", "type": "ordinal", "axis": null},
      "y": {"field": "yc", "type": "quantitative", "axis": null}}}
   ]
  },
  {
   "title": {"text": "D) CO Correlation Coefficient", "offset": -2},
   "width": 1555, "height": 310,
   "resolve": {"axis": {"x": "independent", "y": "independent"}},
   "layer": [
    {"data": {"name": "D"}, "mark": {"type": "rule", "color": "#262626", "strokeWidth": 2, "clip": true},
     "encoding": {
      "x": {"field": "d", "type": "ordinal", "scale": {"type": "point", "padding": 0.5, "domain": ["1","2","3","4","5","6","7","8","9","10","11","12","13","14","15","16","17","18","19","20","30","40","50","60","70","80","90","120","150","180"]},
            "axis": {"orient": "bottom", "title": "Number of Co-located Days", "titleX": 722, "titlePadding": 10, "titleFontSize": 32, "labelAngle": -45, "labelAlign": "center", "labelBaseline": "middle", "labelPadding": 49, "tickSize": -13}},
      "y": {"field": "lo", "type": "quantitative", "scale": {"domain": [-0.5, 1], "nice": false, "zero": false},
            "axis": {"orient": "left", "values": [-0.5, 0, 0.5, 1], "labelExpr": "datum.value < 0 ? '-' + format(-datum.value, '') : format(datum.value, '')", "title": "Correlation (r)", "titleX": -88, "titleY": 133, "titleAngle": -90, "titleAlign": "center", "titleBaseline": "middle", "labelPadding": 25, "tickSize": -13}},
      "y2": {"field": "hi"}}},
    {"data": {"name": "D"}, "mark": {"type": "rule", "color": "#000000", "strokeWidth": 10.5, "strokeCap": "butt", "clip": true},
     "encoding": {
      "x": {"field": "d", "type": "ordinal", "axis": {"orient": "top", "title": null, "labels": false, "tickSize": -13}},
      "y": {"field": "q1", "type": "quantitative", "axis": {"orient": "right", "values": [-0.5, 0, 0.5, 1], "labels": false, "title": null, "tickSize": -13}},
      "y2": {"field": "q3"}}},
    {"data": {"name": "D"}, "mark": {"type": "point", "shape": "circle", "size": 220, "fill": "#ffffff", "fillOpacity": 1, "stroke": "#000000", "strokeWidth": 2.5, "opacity": 1},
     "encoding": {
      "x": {"field": "d", "type": "ordinal", "axis": null},
      "y": {"field": "med", "type": "quantitative", "axis": {"orient": "left", "values": [-0.4, -0.3, -0.2, -0.1, 0.1, 0.2, 0.3, 0.4, 0.6, 0.7, 0.8, 0.9], "labels": false, "title": null, "tickSize": -7}}}},
    {"data": {"name": "D"}, "mark": {"type": "point", "shape": "circle", "size": 22, "filled": true, "color": "#000000", "opacity": 1},
     "encoding": {
      "x": {"field": "d", "type": "ordinal", "axis": null},
      "y": {"field": "med", "type": "quantitative", "axis": {"orient": "right", "values": [-0.4, -0.3, -0.2, -0.1, 0.1, 0.2, 0.3, 0.4, 0.6, 0.7, 0.8, 0.9], "labels": false, "title": null, "tickSize": -7}}}},
    {"data": {"name": "Do"}, "mark": {"type": "rule", "color": "#ff0000", "strokeWidth": 5, "strokeCap": "butt", "clip": true},
     "encoding": {
      "x": {"field": "d", "type": "ordinal", "axis": null},
      "y": {"field": "a", "type": "quantitative", "axis": null},
      "y2": {"field": "b"}}},
    {"data": {"name": "brk"}, "mark": {"type": "text", "text": "//", "fontSize": 40, "dx": 26, "align": "center", "baseline": "middle", "color": "#262626", "font": "Liberation Sans"},
     "encoding": {
      "x": {"field": "d", "type": "ordinal", "axis": null},
      "y": {"field": "yc", "type": "quantitative", "axis": null}}}
   ]
  }
 ],
 "config": {
  "font": "Liberation Sans",
  "view": {"stroke": "#262626", "strokeWidth": 2},
  "axis": {"domain": false, "grid": false, "ticks": true, "tickColor": "#262626", "tickWidth": 1.5, "labelFont": "Liberation Sans", "labelFontSize": 26, "labelColor": "#262626", "titleFont": "Liberation Sans", "titleFontSize": 28, "titleFontWeight": "normal", "titleColor": "#262626", "labelOverlap": false, "labelBound": false, "labelFlush": false},
  "title": {"font": "Liberation Sans", "fontSize": 31, "fontWeight": "bold", "anchor": "start", "frame": "group", "baseline": "alphabetic", "color": "#000000", "dx": -3}
 }
}
